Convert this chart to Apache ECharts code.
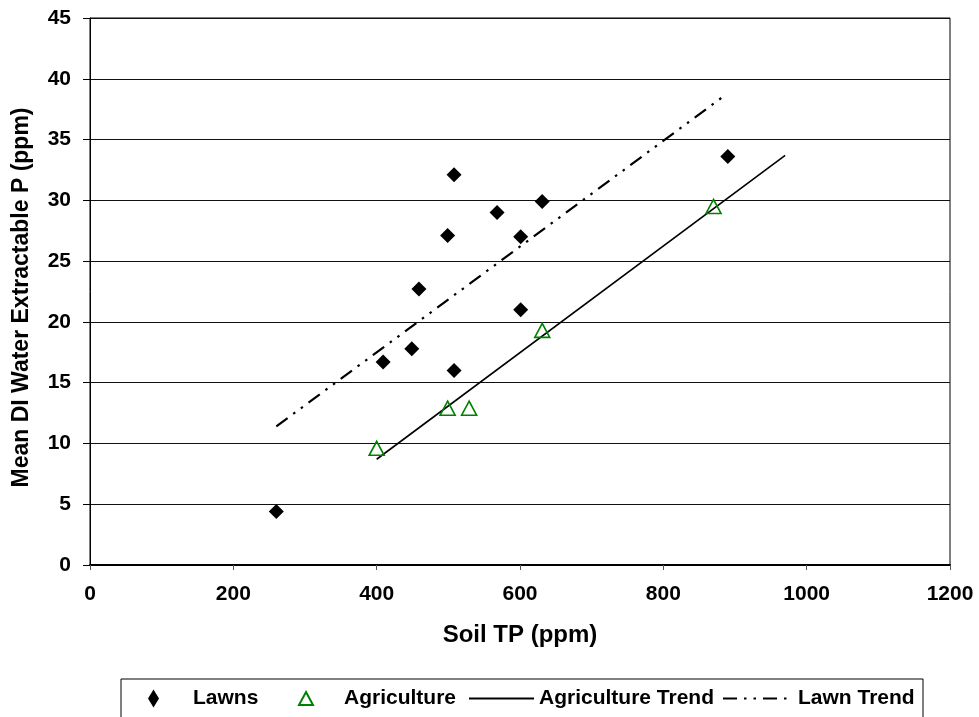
<!DOCTYPE html>
<html>
<head>
<meta charset="utf-8">
<script src="https://cdn.jsdelivr.net/npm/echarts@6/dist/echarts.min.js"></script>
<style>
html,body{margin:0;padding:0;background:#fff;}
#chart{width:979px;height:717px;}
</style>
</head>
<body>
<div id="chart"></div>
<script>
// Data
var lawnsTP = [260, 409, 449, 459, 499, 508, 508, 568, 601, 601, 631, 890];
var lawnsP  = [4.4, 16.7, 17.8, 22.7, 27.1, 32.1, 16.0, 29.0, 27.0, 21.0, 29.9, 33.6];
var agTP = [400, 499, 529, 631, 870];
var agP  = [9.6, 12.9, 12.9, 19.3, 29.5];
var agTrendTP = [400, 970];
var agTrendP  = [8.7, 33.7];
var lawnTrendTP = [260, 885];
var lawnTrendP  = [11.4, 38.6];
var xTicks = [0, 200, 400, 600, 800, 1000, 1200];
var yTicks = [0, 5, 10, 15, 20, 25, 30, 35, 40, 45];

function pairs(xs, ys){ return xs.map(function(x,i){ return [x, ys[i]]; }); }

var FONT = '"Liberation Sans", Arial, sans-serif';
var chart = echarts.init(document.getElementById('chart'), null, {renderer:'canvas'});
var txt = {color:'#000', fontWeight:'bold', fontSize:21, fontFamily:FONT};
var dashPattern = [14, 7, 2.5, 7, 2.5, 7];
var plain = function(v){ return String(v); };

var option = {
  backgroundColor:'#fff',
  animation:false,
  grid:{left:90, right:29, top:18, bottom:152, show:true, borderColor:'#000', borderWidth:1},
  xAxis:{
    type:'value', min:xTicks[0], max:xTicks[xTicks.length-1], interval:200,
    name:'Soil TP (ppm)', nameLocation:'middle', nameGap:58,
    nameTextStyle:{color:'#000', fontWeight:'bold', fontSize:24, fontFamily:FONT},
    axisLine:{show:true, lineStyle:{color:'#000', width:2}},
    axisTick:{show:true, length:5, lineStyle:{color:'#555'}},
    axisLabel:Object.assign({margin:19, formatter:plain}, txt),
    splitLine:{show:false}
  },
  yAxis:{
    type:'value', min:yTicks[0], max:yTicks[yTicks.length-1], interval:5,
    name:'Mean DI Water Extractable P (ppm)', nameLocation:'middle', nameGap:57,
    nameTextStyle:{color:'#000', fontWeight:'bold', fontSize:23, fontFamily:FONT, padding:[0,12,0,0]},
    axisLine:{show:true, lineStyle:{color:'#000', width:1}},
    axisTick:{show:true, length:7, lineStyle:{color:'#000'}},
    axisLabel:Object.assign({margin:19, formatter:plain}, txt),
    splitLine:{show:true, lineStyle:{color:'#111', width:1}}
  },
  legend:[
    {data:['Lawns'], left:148, top:688, padding:0, itemWidth:11, itemHeight:18, symbolKeepAspect:false,
     textStyle:Object.assign({padding:[0,0,0,29]}, txt)},
    {data:['Agriculture'], left:298, top:688, padding:0, itemWidth:14, itemHeight:13, symbolKeepAspect:false,
     textStyle:Object.assign({padding:[0,0,0,26]}, txt)},
    {data:['Agriculture Trend'], left:468, top:688, padding:0, itemWidth:65, itemHeight:18,
     itemStyle:{opacity:0}, textStyle:txt},
    {data:['Lawn Trend'], left:722, top:688, padding:0, itemWidth:70, itemHeight:18,
     itemStyle:{opacity:0}, textStyle:txt}
  ],
  graphic:[{type:'rect', shape:{x:121, y:679, width:802, height:60}, style:{fill:'none', stroke:'#000', lineWidth:1}, silent:true}],
  series:[
    {name:'Lawns', type:'scatter', symbol:'diamond', symbolSize:15, data:pairs(lawnsTP, lawnsP),
     itemStyle:{color:'#000', opacity:1}, z:5},
    {name:'Agriculture', type:'scatter', symbol:'triangle', symbolSize:[15,14], data:pairs(agTP, agP),
     itemStyle:{color:'rgba(255,255,255,0)', borderColor:'#008000', borderWidth:1.6, opacity:1}, z:6},
    {name:'Agriculture Trend', type:'line', symbol:'none', data:pairs(agTrendTP, agTrendP),
     lineStyle:{color:'#000', width:1.6}, itemStyle:{color:'#000'}, z:4},
    {name:'Lawn Trend', type:'line', symbol:'none', data:pairs(lawnTrendTP, lawnTrendP),
     lineStyle:{color:'#000', width:2.2, type:dashPattern}, itemStyle:{color:'#000'}, z:4}
  ]
};
chart.setOption(option);
</script>
</body>
</html>
